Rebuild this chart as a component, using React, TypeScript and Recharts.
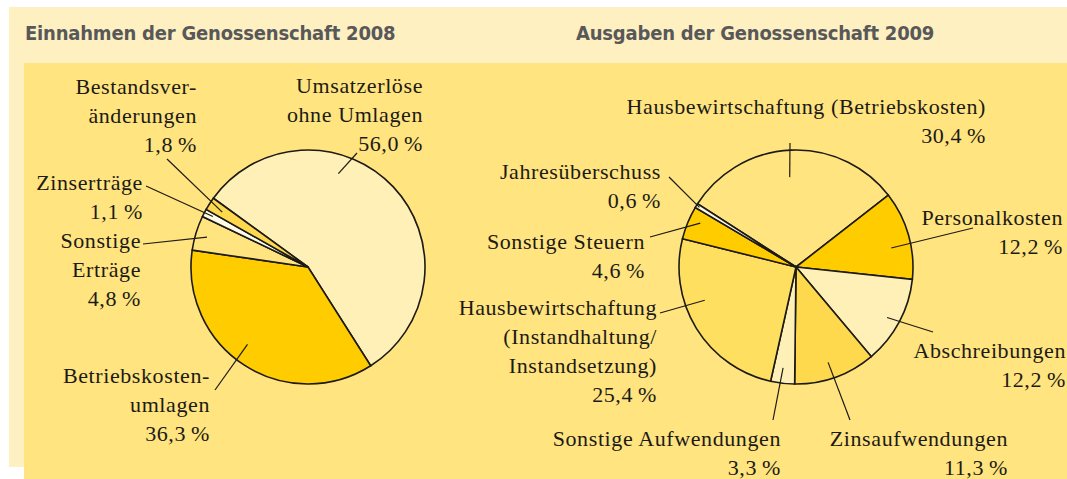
import React from "react";
import { PieChart, Pie } from "recharts";

// --- data -------------------------------------------------------------
const INCOME_LABELS = [
  ["Umsatzerlöse", "ohne Umlagen"],
  ["Betriebskosten-", "umlagen"],
  ["Sonstige", "Erträge"],
  ["Zinserträge"],
  ["Bestandsver-", "änderungen"],
];
const INCOME_VALUES = [56.0, 36.3, 4.8, 1.1, 1.8];

const EXPENSE_LABELS = [
  ["Hausbewirtschaftung (Betriebskosten)"],
  ["Personalkosten"],
  ["Abschreibungen"],
  ["Zinsaufwendungen"],
  ["Sonstige Aufwendungen"],
  ["Hausbewirtschaftung", "(Instandhaltung/", "Instandsetzung)"],
  ["Sonstige Steuern"],
  ["Jahresüberschuss"],
];
const EXPENSE_VALUES = [30.4, 12.2, 12.2, 11.3, 3.3, 25.4, 4.6, 0.6];

const TITLES = ["Einnahmen der Genossenschaft 2008", "Ausgaben der Genossenschaft 2009"];

// --- styling / layout ---------------------------------------------------
const PANEL = "#FFE47F";
const BAND = "#FEF0C0";
const CREAM = "#FEF0B6";
const GOLD = "#FFCC00";
const MID = "#FED94E";
const MID2 = "#FFDF60";
const WHITE = "#FFFBE9";
const INK = "#1c1a16";

const INCOME_FILLS = [CREAM, GOLD, PANEL, WHITE, MID];
const EXPENSE_FILLS = [PANEL, GOLD, CREAM, MID, CREAM, MID2, GOLD, WHITE];

// label placement relative to pie centre:
// rx = right edge of text, by = first baseline, out = leader end near text,
// inAng/inR = leader end inside the slice (degrees, fraction of radius)
type Place = { rx: number; by: number; out: [number, number]; inAng: number; inR: number };

const INCOME_PLACE: Place[] = [
  { rx: 115, by: -174, out: [49, -114], inAng: 72, inR: 0.84 },
  { rx: -98, by: 116, out: [-93, 123], inAng: 232, inR: 0.84 },
  { rx: -167, by: -19, out: [-165, -23], inAng: 163.5, inR: 0.9 },
  { rx: -165, by: -77, out: [-162, -81], inAng: 152, inR: 0.92 },
  { rx: -111, by: -173, out: [-141, -108], inAng: 147.4, inR: 0.87 },
];
const EXPENSE_PLACE: Place[] = [
  { rx: 190, by: -153, out: [-6, -124], inAng: 94, inR: 0.77 },
  { rx: 267, by: -42, out: [177, -39], inAng: 11.3, inR: 0.83 },
  { rx: 270, by: 91, out: [137, 65], inAng: 331, inR: 0.89 },
  { rx: 212, by: 179, out: [54, 153], inAng: 288.6, inR: 0.86 },
  { rx: -15, by: 179, out: [-23, 153], inAng: 262.7, inR: 0.87 },
  { rx: -139, by: 48, out: [-136, 46], inAng: 200, inR: 0.83 },
  { rx: -151, by: -18, out: [-146, -30], inAng: 155.4, inR: 0.9 },
  { rx: -135, by: -88, out: [-127, -90], inAng: 148.3, inR: 0.97 },
];

const LINE_H = 29;
const fmt = (v: number) => v.toFixed(1).replace(".", ",") + "\u202F%";

const incomeData = INCOME_VALUES.map((v, i) => ({
  name: INCOME_LABELS[i].join(" "),
  value: v,
  fill: INCOME_FILLS[i],
}));
const expenseData = EXPENSE_VALUES.map((v, i) => ({
  name: EXPENSE_LABELS[i].join(" "),
  value: v,
  fill: EXPENSE_FILLS[i],
}));

function makeLabel(lines: string[][], values: number[], places: Place[]) {
  return (props: any) => {
    const { cx, cy, outerRadius, index } = props;
    const p = places[index];
    const rad = (p.inAng * Math.PI) / 180;
    const ix = cx + outerRadius * p.inR * Math.cos(rad);
    const iy = cy - outerRadius * p.inR * Math.sin(rad);
    const rows = [...lines[index], fmt(values[index])];
    return (
      <g key={`lab-${index}`}>
        <line x1={cx + p.out[0]} y1={cy + p.out[1]} x2={ix} y2={iy} stroke={INK} strokeWidth={1.2} />
        <text
          x={cx + p.rx}
          y={cy + p.by}
          textAnchor="end"
          fill={INK}
          style={{ fontFamily: "'Liberation Serif', serif", fontSize: 22, letterSpacing: 0.6 }}
        >
          {rows.map((r, k) => (
            <tspan key={k} x={cx + p.rx} y={cy + p.by + k * LINE_H}>
              {r}
            </tspan>
          ))}
        </text>
      </g>
    );
  };
}

const titleStyle: React.CSSProperties = {
  position: "absolute",
  top: 21,
  fontFamily: "'Liberation Sans Narrow', 'DejaVu Sans Condensed', sans-serif",
  fontWeight: 700,
  fontSize: 20,
  letterSpacing: -0.2,
  color: "#58585A",
  whiteSpace: "nowrap",
  lineHeight: "24px",
};

export default function App() {
  return (
    <div style={{ position: "absolute", left: 0, top: 0, width: 1067, height: 479, background: "#fff", overflow: "hidden" }}>
      <div style={{ position: "absolute", left: 9, top: 7, right: 0, height: 460, background: BAND }} />
      <div style={{ position: "absolute", left: 24, top: 63, right: 0, bottom: 0, background: PANEL }} />
      <div style={{ ...titleStyle, left: 25 }}>{TITLES[0]}</div>
      <div style={{ ...titleStyle, left: 576 }}>{TITLES[1]}</div>
      <div style={{ position: "absolute", left: 0, top: 0 }}>
        <PieChart width={1067} height={479} margin={{ top: 0, right: 0, bottom: 0, left: 0 }}>
          <Pie
            data={incomeData}
            dataKey="value"
            cx={308}
            cy={267}
            outerRadius={117}
            startAngle={144}
            endAngle={-216}
            stroke={INK}
            strokeWidth={1.6}
            label={makeLabel(INCOME_LABELS, INCOME_VALUES, INCOME_PLACE)}
            labelLine={false}
            isAnimationActive={false}
          />
          <Pie
            data={expenseData}
            dataKey="value"
            cx={796}
            cy={267}
            outerRadius={117}
            startAngle={147.3}
            endAngle={-212.7}
            stroke={INK}
            strokeWidth={1.6}
            label={makeLabel(EXPENSE_LABELS, EXPENSE_VALUES, EXPENSE_PLACE)}
            labelLine={false}
            isAnimationActive={false}
          />
        </PieChart>
      </div>
    </div>
  );
}
